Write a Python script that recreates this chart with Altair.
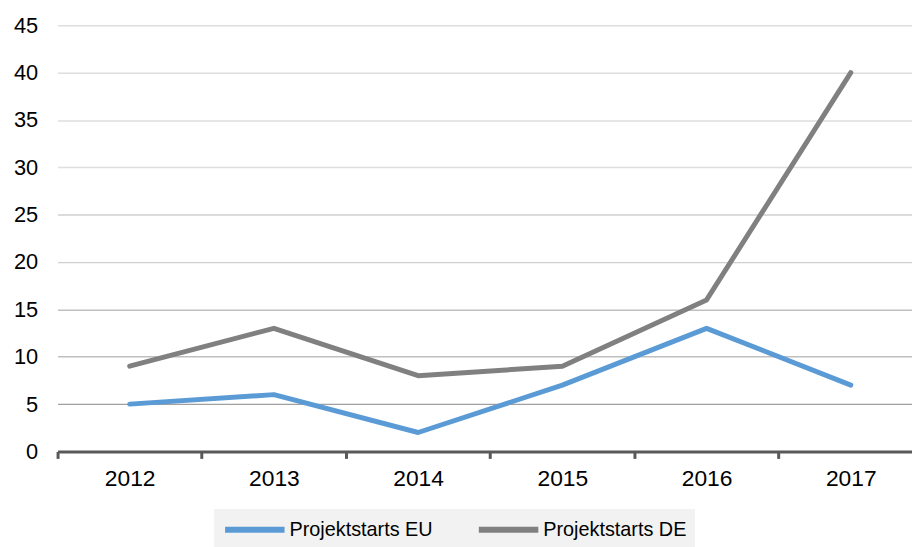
import altair as alt
import pandas as pd

years = ["2012", "2013", "2014", "2015", "2016", "2017"]
eu_values = [5, 6, 2, 7, 13, 7]
de_values = [9, 13, 8, 9, 16, 40]
series_names = ["Projektstarts EU", "Projektstarts DE"]
series_colors = ["#5B9BD5", "#808080"]
y_ticks = [0, 5, 10, 15, 20, 25, 30, 35, 40, 45]

rows = []
for y, v in zip(years, eu_values):
    rows.append({"Jahr": int(y), "Wert": v, "Serie": series_names[0]})
for y, v in zip(years, de_values):
    rows.append({"Jahr": int(y), "Wert": v, "Serie": series_names[1]})
df = pd.DataFrame(rows)

FONT = "Liberation Sans"
W = 862
BAND = 145.5  # pixel width of one year category
first = int(years[0]) - 0.5
x_domain = [first, first + W / BAND]

grid_color = {
    "condition": [
        {"test": "datum.value <= 5", "value": "#a0a0a0"},
        {"test": "datum.value <= 15", "value": "#bfbfbf"},
        {"test": "datum.value <= 25", "value": "#cfcfcf"},
    ],
    "value": "#dedede",
}

chart = (
    alt.Chart(df)
    .mark_line(strokeWidth=5, strokeCap="round", strokeJoin="round")
    .encode(
        x=alt.X(
            "Jahr:Q",
            scale=alt.Scale(domain=x_domain, nice=False, zero=False),
            axis=alt.Axis(
                title=None,
                values=[int(y) for y in years],
                format="d",
                labelAngle=0,
                labelFontSize=23,
                labelColor="#000000",
                labelFont=FONT,
                labelPadding=9,
                labelFlush=False,
                labelOverlap=False,
                tickOffset=-BAND / 2,
                labelOffset=BAND / 2,
                tickSize=7,
                tickWidth=3,
                tickColor="#595959",
                domainColor="#595959",
                domainWidth=3,
                grid=False,
            ),
        ),
        y=alt.Y(
            "Wert:Q",
            scale=alt.Scale(domain=[0, 45], nice=False, zero=True),
            axis=alt.Axis(
                title=None,
                values=y_ticks,
                labelFontSize=22,
                labelColor="#000000",
                labelFont=FONT,
                labelPadding=20,
                ticks=False,
                domain=False,
                grid=True,
                gridColor=grid_color,
                gridWidth=1.5,
            ),
        ),
        color=alt.Color(
            "Serie:N",
            sort=series_names,
            scale=alt.Scale(domain=series_names, range=series_colors),
            legend=alt.Legend(
                title=None,
                orient="none",
                direction="horizontal",
                legendX=158,
                legendY=488,
                symbolType="M-1,0H5",
                symbolSize=400,
                symbolStrokeWidth=6,
                labelFontSize=20,
                labelFont=FONT,
                labelColor="#000000",
                labelOffset=42,
                columnPadding=34,
                fillColor="#f2f2f2",
                padding=8,
            ),
        ),
    )
    .properties(
        width=W,
        height=430,
        padding={"left": 50, "top": 15, "right": 0, "bottom": 94},
        autosize=alt.AutoSizeParams(type="none"),
    )
    .configure_view(stroke=None)
)

chart.save("out.html", embed_options={"renderer": "svg", "actions": False})
